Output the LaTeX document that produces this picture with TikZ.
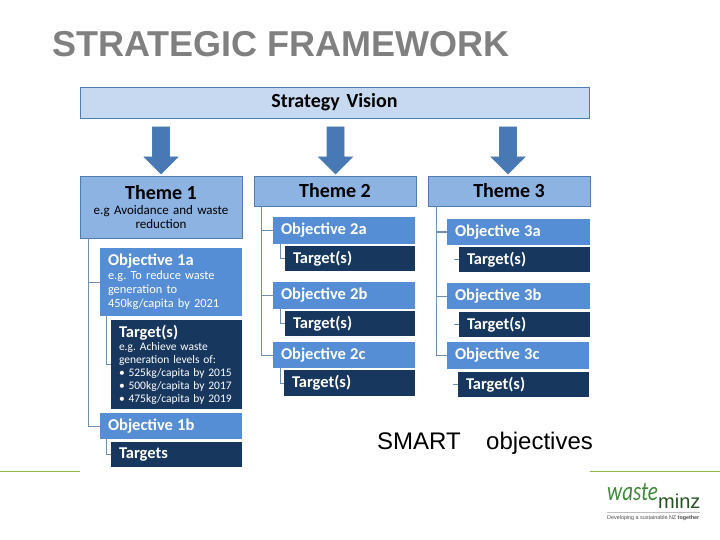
\documentclass[tikz,border=0pt]{standalone}
\usepackage{fontspec}
\usepackage{graphicx}
\setmainfont{Carlito}
\newfontfamily\arialf{Liberation Sans}
\definecolor{visionc}{HTML}{C6D9F1}
\definecolor{themec}{HTML}{8DB3E2}
\definecolor{objc}{HTML}{558ED5}
\definecolor{targc}{HTML}{17375E}
\definecolor{edgec}{HTML}{4F7DAF}
\definecolor{linkc}{HTML}{6F8FAF}
\definecolor{rulegreen}{HTML}{8DB845}
\definecolor{logog}{HTML}{3F8A3A}
\newcommand{\sm}{\fontsize{13}{14.2}\selectfont}
\newcommand{\smo}{\fontsize{12.4}{14}\selectfont}
\newcommand{\ssm}{\fontsize{11.5}{12.8}\selectfont}
\tikzset{
  basebox/.style={anchor=north west,inner sep=0pt,outer sep=0pt,align=left},
  visionbox/.style={basebox,draw=edgec,fill=visionc,text=black,align=center,font=\bfseries\fontsize{20}{22}\selectfont},
  themebox/.style={basebox,draw=edgec,fill=themec,text=black,align=center,font=\sm},
  objbox/.style={basebox,fill=objc,text=white,font=\smo},
  targbox/.style={basebox,fill=targc,text=white,font=\ssm},
  link/.style={draw=linkc,line width=1pt},
  bigarrow/.style={fill=objc!85!black,draw=edgec,line width=.6pt},
}
% name, x1, y1, x2, y2, style, text
\newcommand{\bx}[7]{%
  \pgfmathsetmacro{\boxw}{#4-#2}\pgfmathsetmacro{\boxh}{#5-#3}%
  \node[#6,minimum width=\boxw pt,minimum height=\boxh pt,text width=\boxw pt] (#1) at (#2,#3) {#7};}
\newcommand{\arrowdown}[1]{%
  \path[bigarrow] (#1-8.5,127) -- (#1+8.5,127) -- (#1+8.5,157) -- (#1+17,157) -- (#1,174) -- (#1-17,157) -- (#1-8.5,157) -- cycle;}
\newcommand{\hdr}[1]{{\bfseries\fontsize{16.5}{17}\selectfont #1}}
\newcommand{\thm}[1]{{\bfseries\fontsize{20}{20}\selectfont #1}}
\newcommand{\pd}{\hspace*{8pt}}
\begin{document}
\begin{tikzpicture}[x=1pt,y=-1pt]
\useasboundingbox (0,0) rectangle (720,540);
\fill[white] (0,0) rectangle (720,540);
\node[anchor=west,inner sep=0pt,text=black!50,font=\arialf\bfseries\fontsize{36}{38}\selectfont] (title) at (52,44) {STRATEGIC FRAMEWORK};
\fill[rulegreen] (0,471) rectangle (80,472.2);
\fill[rulegreen] (590,471) rectangle (720,472.2);

\bx{vision}{80}{87}{589}{118}{visionbox}{Strategy Vision}
\arrowdown{161}\arrowdown{335.5}\arrowdown{508}

\bx{th1}{80}{176}{242}{238}{themebox}{\thm{Theme 1}\\[1pt]e.g Avoidance and waste\\reduction}
\bx{th2}{254}{176}{416}{206}{themebox}{\thm{Theme 2}}
\bx{th3}{428}{176}{590}{206}{themebox}{\thm{Theme 3}}

\bx{o1a}{100}{248}{242}{316}{objbox}{\pd\hdr{Objective 1a}\\\pd e.g.\ To reduce waste\\\pd generation to\\\pd 450kg/capita by 2021}
\bx{t1a}{111}{320}{242}{409}{targbox}{\pd\hdr{Target(s)}\\[1pt]\pd e.g.\ Achieve waste\\\pd generation levels of:\\\pd • 525kg/capita by 2015\\\pd • 500kg/capita by 2017\\\pd • 475kg/capita by 2019}
\bx{o1b}{100}{413}{242}{439}{objbox}{\pd\hdr{Objective 1b}}
\bx{t1b}{111}{442}{242}{467}{targbox}{\pd\hdr{Targets}}

\bx{o2a}{273}{217}{415}{244}{objbox}{\pd\hdr{Objective 2a}}
\bx{t2a}{285}{246}{415}{271}{targbox}{\pd\hdr{Target(s)}}
\bx{o2b}{273}{282}{415}{309}{objbox}{\pd\hdr{Objective 2b}}
\bx{t2b}{285}{311}{415}{336}{targbox}{\pd\hdr{Target(s)}}
\bx{o2c}{273}{342}{415}{368}{objbox}{\pd\hdr{Objective 2c}}
\bx{t2c}{284}{370}{415}{396}{targbox}{\pd\hdr{Target(s)}}

\bx{o3a}{447}{219}{590}{245}{objbox}{\pd\hdr{Objective 3a}}
\bx{t3a}{459}{247}{590}{272}{targbox}{\pd\hdr{Target(s)}}
\bx{o3b}{447}{283}{590}{309}{objbox}{\pd\hdr{Objective 3b}}
\bx{t3b}{459}{312}{590}{337}{targbox}{\pd\hdr{Target(s)}}
\bx{o3c}{447}{342}{589}{369}{objbox}{\pd\hdr{Objective 3c}}
\bx{t3c}{458}{372}{589}{397}{targbox}{\pd\hdr{Target(s)}}

% theme to objective
\draw[link] ([xshift=8pt]th1.south west) |- (o1a.west);
\draw[link] ([xshift=8pt]th1.south west) |- (o1b.west);
\draw[link] ([xshift=7pt]th2.south west) |- (o2a.west);
\draw[link] ([xshift=7pt]th2.south west) |- (o2b.west);
\draw[link] ([xshift=7pt]th2.south west) |- (o2c.west);
\draw[link] ([xshift=8pt]th3.south west) |- (o3a.west);
\draw[link] ([xshift=8pt]th3.south west) |- (o3b.west);
\draw[link] ([xshift=8pt]th3.south west) |- (o3c.west);
% objective to target
\draw[link] ([xshift=6pt]o1a.south west) |- (t1a.west);
\draw[link] ([xshift=6pt]o1b.south west) |- (t1b.west);
\draw[link] ([xshift=7pt]o2a.south west) |- (t2a.west);
\draw[link] ([xshift=7pt]o2b.south west) |- (t2b.west);
\draw[link] ([xshift=7pt]o2c.south west) |- (t2c.west);
\draw[link] (t3a.west) -- ++(-5,0);
\draw[link] (t3b.west) -- ++(-5,0);
\draw[link] (t3c.west) -- ++(-5,0);

\node[anchor=base west,inner sep=0pt,font=\arialf\fontsize{24}{26}\selectfont] (smart) at (377,449) {SMART};
\node[anchor=base west,inner sep=0pt,font=\arialf\fontsize{24}{26}\selectfont] (objs) at (486,449) {objectives};

% logo
\node[anchor=base west,inner sep=0pt,text=logog,font=\fontsize{27}{27}\itshape\selectfont] (lw) at (607,500) {\scalebox{.78}[1]{waste}};
\node[anchor=base west,inner sep=0pt,text=logog!60!black,font=\arialf\fontsize{20}{20}\selectfont] (lm) at (658,508) {minz};
\coordinate (ll1) at (607,512);\coordinate (ll2) at (700,512);
\draw[black!25,line width=.6pt] (ll1) -- (ll2);
\node[anchor=west,inner sep=0pt,text=black!70,font=\arialf\fontsize{5.4}{6}\selectfont] (lt) at (607,518.5) {Developing a sustainable NZ \textbf{together}};
\end{tikzpicture}
\end{document}
